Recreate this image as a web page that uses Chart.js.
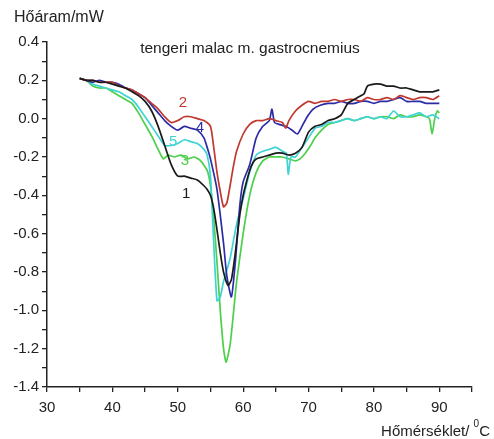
<!DOCTYPE html>
<html>
<head>
<meta charset="utf-8">
<script src="https://cdn.jsdelivr.net/npm/chart.js@4"></script>
<style>
  html, body { margin: 0; padding: 0; background: #fff; }
  #wrap { width: 494px; height: 439px; }
</style>
</head>
<body>
<div id="wrap"><canvas id="dscChart" width="494" height="439"></canvas></div>
<script>
// Curve 1 (black)
const t1 = [35, 36, 37, 38, 39, 40, 41, 42, 43, 44, 45, 46, 47, 48, 49, 50, 51, 52, 53, 54, 54.5, 55, 55.5, 56, 56.5, 57, 57.7, 58.2, 58.8, 59.5, 60, 60.5, 61, 61.5, 62, 63, 64, 65, 66, 67, 68, 69, 70, 71, 72, 73, 74, 75, 76, 77, 78, 78.5, 79, 80, 81, 82, 83, 84, 85, 86, 87, 88, 89, 90];
const v1 = [0.21, 0.20, 0.20, 0.19, 0.19, 0.18, 0.17, 0.16, 0.14, 0.12, 0.09, 0.04, -0.04, -0.14, -0.24, -0.30, -0.30, -0.31, -0.32, -0.35, -0.37, -0.40, -0.47, -0.58, -0.70, -0.80, -0.87, -0.84, -0.70, -0.50, -0.40, -0.33, -0.27, -0.23, -0.21, -0.20, -0.19, -0.18, -0.18, -0.19, -0.18, -0.15, -0.07, -0.04, -0.03, -0.01, 0.0, 0.02, 0.08, 0.10, 0.12, 0.13, 0.17, 0.18, 0.18, 0.17, 0.17, 0.16, 0.16, 0.15, 0.14, 0.14, 0.14, 0.15];

// Curve 2 (red)
const t2 = [35, 36, 37, 38, 39, 40, 41, 42, 43, 44, 45, 46, 47, 48, 49, 50, 51, 52, 53, 54, 55, 55.5, 56, 56.5, 57, 57.5, 58, 58.5, 59, 60, 61, 62, 63, 64, 65, 66, 66.5, 67, 68, 69, 70, 71, 72, 73, 74, 75, 76, 77, 78, 79, 80, 81, 82, 83, 84, 85, 86, 87, 88, 89, 90];
const v2 = [0.21, 0.20, 0.20, 0.19, 0.19, 0.19, 0.17, 0.16, 0.15, 0.13, 0.11, 0.08, 0.05, 0.01, -0.02, -0.01, 0.01, 0.01, 0.0, -0.01, -0.04, -0.15, -0.28, -0.38, -0.46, -0.44, -0.35, -0.25, -0.17, -0.08, -0.03, -0.01, -0.01, 0.0, -0.01, -0.02, -0.05, -0.01, 0.04, 0.07, 0.09, 0.08, 0.09, 0.09, 0.10, 0.09, 0.10, 0.10, 0.09, 0.11, 0.10, 0.10, 0.11, 0.10, 0.12, 0.11, 0.10, 0.11, 0.11, 0.10, 0.12];

// Curve 3 (green)
const t3 = [35, 36, 37, 38, 39, 40, 41, 42, 43, 44, 45, 46, 47, 47.8, 48.5, 49.5, 50.5, 51.5, 52.5, 53.5, 54.5, 55, 55.5, 56, 56.5, 57, 57.4, 58, 58.5, 59, 60, 61, 62, 63, 64, 65, 66, 67, 68, 68.7, 69.5, 70.3, 71, 72, 73, 74, 75, 76, 77, 78, 79, 80, 81, 82, 83, 84, 85, 86, 87, 88, 88.5, 88.9, 89.3, 89.7, 90];
const v3 = [0.21, 0.20, 0.17, 0.16, 0.16, 0.14, 0.12, 0.10, 0.08, 0.03, -0.03, -0.09, -0.16, -0.21, -0.19, -0.20, -0.19, -0.21, -0.20, -0.22, -0.27, -0.35, -0.52, -0.75, -1.00, -1.20, -1.27, -1.18, -1.02, -0.85, -0.60, -0.40, -0.28, -0.22, -0.20, -0.20, -0.20, -0.21, -0.22, -0.21, -0.18, -0.14, -0.10, -0.06, -0.03, -0.02, -0.01, 0.0, -0.01, 0.0, 0.01, 0.0, 0.01, 0.01, 0.0, 0.02, 0.01, 0.01, 0.02, 0.01, 0.0, -0.08, 0.0, 0.04, 0.03];

// Curve 4 (blue)
const t4 = [35, 36, 37, 38, 39, 40, 41, 42, 43, 44, 45, 46, 47, 48, 49, 50, 51, 52, 53, 54, 54.5, 55, 56, 57, 57.5, 58.2, 58.8, 59.5, 60, 61, 62, 63, 64, 64.4, 64.8, 65.5, 66.5, 67.5, 68.3, 69, 69.8, 70.7, 71.8, 73, 74, 75, 76, 77, 78, 79, 80, 81, 82, 83, 84, 85, 86, 87, 88, 89, 90];
const v4 = [0.21, 0.20, 0.19, 0.20, 0.19, 0.19, 0.18, 0.16, 0.15, 0.13, 0.11, 0.07, 0.03, -0.01, -0.04, -0.06, -0.04, -0.05, -0.06, -0.10, -0.15, -0.21, -0.37, -0.65, -0.82, -0.93, -0.75, -0.45, -0.33, -0.24, -0.10, -0.04, -0.01, 0.05, -0.02, -0.03, -0.04, -0.06, -0.08, -0.04, 0.01, 0.05, 0.07, 0.08, 0.08, 0.09, 0.08, 0.08, 0.09, 0.09, 0.08, 0.09, 0.09, 0.10, 0.11, 0.09, 0.09, 0.09, 0.08, 0.08, 0.08];

// Curve 5 (cyan)
const t5 = [35, 36, 37, 38, 39, 40, 41, 42, 43, 44, 45, 46, 47, 48, 49, 50, 51, 52, 53, 54, 54.5, 55, 55.5, 56, 56.5, 57, 58, 59, 60, 61, 62, 63, 64, 65, 66, 66.6, 66.9, 67.3, 68, 69, 70, 71, 72, 73, 74, 75, 76, 77, 78, 79, 80, 81, 82, 83, 84, 85, 86, 87, 88, 89, 90];
const v5 = [0.21, 0.20, 0.18, 0.17, 0.16, 0.15, 0.14, 0.12, 0.10, 0.06, 0.01, -0.04, -0.09, -0.14, -0.14, -0.13, -0.11, -0.12, -0.13, -0.16, -0.19, -0.30, -0.65, -0.95, -0.93, -0.85, -0.73, -0.55, -0.42, -0.28, -0.19, -0.17, -0.16, -0.15, -0.17, -0.18, -0.29, -0.20, -0.20, -0.15, -0.10, -0.05, -0.04, -0.02, -0.02, -0.01, 0.0, -0.01, 0.0, 0.01, 0.0, 0.01, 0.0, 0.04, 0.01, 0.01, 0.02, 0.03, 0.01, 0.02, 0.0];

// curve number labels: [text, temperature, value, colour]
const curveLabels = [
  ["2", 50.8, 0.08, "#c0392f"],
  ["4", 53.4, -0.05, "#2b2ba6"],
  ["5", 49.3, -0.12, "#3fd3d6"],
  ["3", 51.1, -0.22, "#4ccf4c"],
  ["1", 51.3, -0.39, "#1a1a1a"]
];

const xTicks = [30, 40, 50, 60, 70, 80, 90];
const yTicks = [0.4, 0.2, 0.0, -0.2, -0.4, -0.6, -0.8, -1.0, -1.2, -1.4];

const FONT = "'Liberation Sans', Arial, sans-serif";

function pts(t, v) {
  return t.map((x, i) => ({ x: x, y: v[i] }));
}

function series(t, v, color) {
  return {
    data: pts(t, v),
    borderColor: color,
    borderWidth: 1.7,
    pointRadius: 0,
    tension: 0.2,
    fill: false
  };
}

// titles and curve numbers drawn straight on the canvas
const textPlugin = {
  id: "texts",
  afterDraw(chart) {
    const c = chart.ctx;
    const xs = chart.scales.x, ys = chart.scales.y;
    c.save();
    c.fillStyle = "#222";
    c.textBaseline = "alphabetic";
    c.font = "16px " + FONT;
    c.textAlign = "left";
    c.fillText("Hőáram/mW", 14, 22);

    c.font = "15.5px " + FONT;
    c.textAlign = "center";
    c.fillText("tengeri malac m. gastrocnemius", 250, 53);

    // x title with superscript 0
    c.font = "15px " + FONT;
    c.textAlign = "left";
    const a = "Hőmérséklet/ ";
    const wA = c.measureText(a).width;
    c.font = "10px " + FONT;
    const wS = c.measureText("0").width;
    c.font = "15px " + FONT;
    const wC = c.measureText("C").width;
    let x0 = 490 - (wA + wS + wC);
    c.fillText(a, x0, 436);
    c.font = "10px " + FONT;
    c.fillText("0", x0 + wA, 427);
    c.font = "15px " + FONT;
    c.fillText("C", x0 + wA + wS, 436);

    c.textAlign = "center";
    c.textBaseline = "middle";
    c.font = "15px " + FONT;
    curveLabels.forEach(([txt, t, v, col]) => {
      c.fillStyle = col;
      c.fillText(txt, xs.getPixelForValue(t), ys.getPixelForValue(v));
    });
    c.restore();
  }
};

new Chart(document.getElementById("dscChart"), {
  type: "line",
  data: {
    datasets: [
      series(t1, v1, "#1a1a1a"),
      series(t2, v2, "#c0392f"),
      series(t4, v4, "#2b2ba6"),
      series(t5, v5, "#3fd3d6"),
      series(t3, v3, "#4ccf4c")
    ]
  },
  options: {
    responsive: false,
    animation: false,
    layout: { padding: { top: 42, right: 22, bottom: 0, left: 0 } },
    plugins: { legend: { display: false }, tooltip: { enabled: false } },
    scales: {
      x: {
        type: "linear",
        min: 30,
        max: 95,
        afterFit(s) { s.height = 52; },
        afterBuildTicks(s) {
          const out = [];
          for (let v = 30; v <= 95; v += 5) out.push({ value: v });
          s.ticks = out;
        },
        border: { display: true, color: "#222", width: 1.5 },
        grid: { drawOnChartArea: false, tickLength: 5, color: "#222", lineWidth: 1.3 },
        ticks: {
          color: "#222",
          font: { family: FONT, size: 15 },
          padding: 7,
          maxRotation: 0,
          autoSkip: false,
          callback: (v) => xTicks.includes(v) ? String(v) : ""
        }
      },
      y: {
        type: "linear",
        min: -1.4,
        max: 0.4,
        afterFit(s) { s.width = 47; },
        afterBuildTicks(s) {
          const out = [];
          for (let i = -14; i <= 4; i++) out.push({ value: i / 10 });
          s.ticks = out;
        },
        border: { display: true, color: "#222", width: 1.5 },
        grid: { drawOnChartArea: false, tickLength: 5, color: "#222", lineWidth: 1.3 },
        ticks: {
          color: "#222",
          font: { family: FONT, size: 15 },
          padding: 3,
          autoSkip: false,
          callback: (v) => {
            const hit = yTicks.find((y) => Math.abs(y - v) < 1e-6);
            if (hit === undefined) return "";
            return Math.abs(hit) < 1e-6 ? "0.0" : hit.toFixed(1);
          }
        }
      }
    }
  },
  plugins: [textPlugin]
});
</script>
</body>
</html>
